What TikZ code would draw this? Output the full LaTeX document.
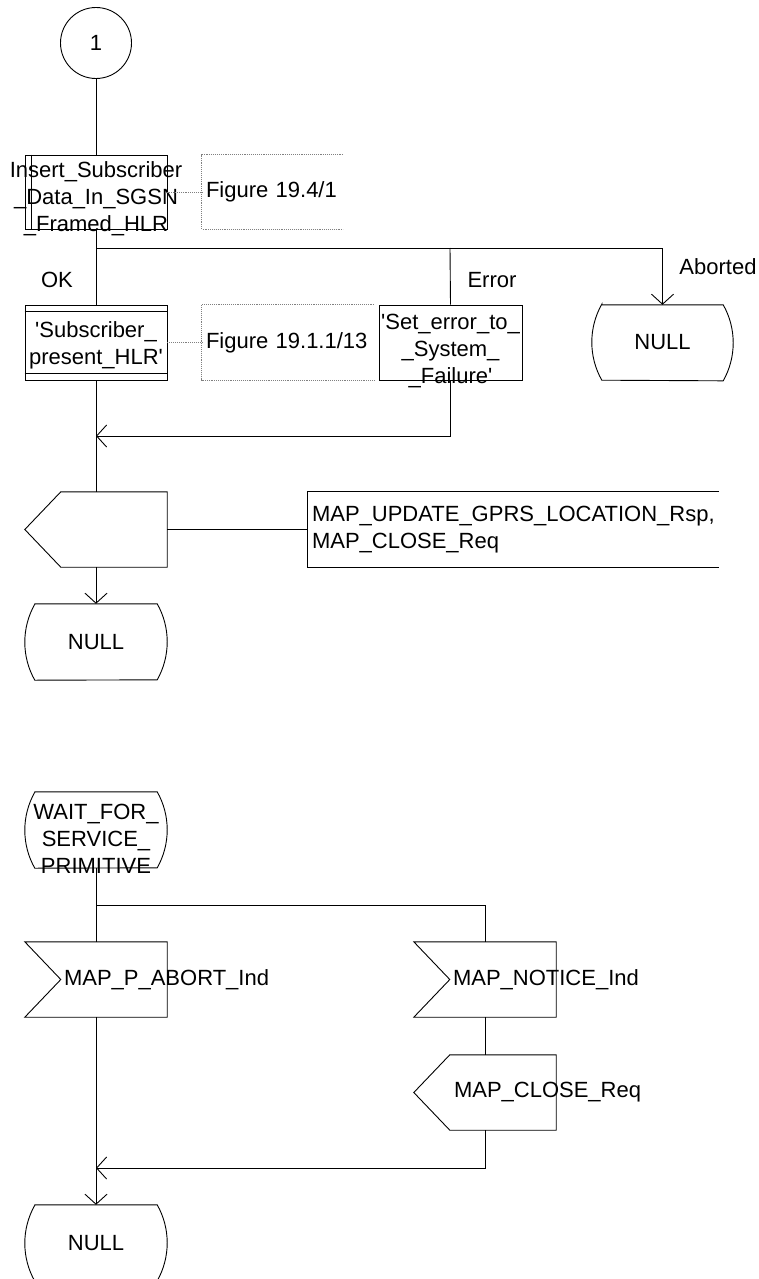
\documentclass[tikz,border=0pt]{standalone}
\usepackage{fontspec}
\setmainfont{Liberation Sans}
\usetikzlibrary{arrows.meta}

\newcommand{\sdlstate}[1]{%
  \draw[flow] ([xshift=10pt]#1.north west) -- ([xshift=-10pt]#1.north east)
    arc[start angle=-29.5, end angle=29.5, radius=77.2]
    -- ([xshift=10pt]#1.south west)
    arc[start angle=150.5, end angle=209.5, radius=77.2] -- cycle;}
\newcommand{\sdloutput}[1]{%
  \draw[flow] (#1.north east) -- (#1.south east) -- ([xshift=36pt]#1.south west)
    -- (#1.west) -- ([xshift=36pt]#1.north west) -- cycle;}
\newcommand{\sdlinput}[1]{%
  \draw[flow] (#1.north west) -- (#1.north east) -- (#1.south east)
    -- (#1.south west) -- ([xshift=36pt]#1.west) -- cycle;}

\begin{document}
\begin{tikzpicture}[x=1pt,y=-1pt,
  every node/.style={font=\fontsize{22}{27}\selectfont, inner sep=0pt},
  flow/.style={draw=black, line width=0.9pt},
  arr/.style={flow, -{Straight Barb[length=10pt,width=22pt,line width=0.9pt]}},
  dotline/.style={draw=gray, densely dotted, line width=0.9pt},
  body/.style={minimum width=142pt, minimum height=75pt},
  sym/.style={body, draw=black, line width=0.9pt},
  txt/.style={align=center},
  comment/.style={inner xsep=4pt, align=left, minimum height=75pt}]

\useasboundingbox (0,0) rectangle (759,1279);

% ---------- upper part ----------
\node[circle, draw=black, line width=0.9pt, minimum size=71pt] (c1) at (96,43) {1};

\node[sym, minimum height=74pt] (ins) at (96,192) {};
\draw[flow] ([xshift=7pt]ins.north west) -- ([xshift=7pt]ins.south west);
\node[txt] (inst) at (96,199) {Insert\_Subscriber\\\_Data\_In\_SGSN\\\_Framed\_HLR};

\node[comment, text width=133pt, minimum height=74pt] (fig1) at (272.5,192) {Figure 19.4/1};
\draw[dotline] (fig1.north east) -- (fig1.north west) -- (fig1.south west) -- (fig1.south east);
\draw[dotline] (ins.east) -- (fig1.west);

\draw[flow] (c1) -- (ins);

\coordinate (j1) at (96,248);
\coordinate (j2) at (450,248);

\node[sym] (sub) at (96,342.5) {};
\draw[flow] ([yshift=-7pt]sub.north west) -- ([yshift=-7pt]sub.north east);
\draw[flow] ([yshift=7pt]sub.south west) -- ([yshift=7pt]sub.south east);
\node[txt] (subt) at (96,345) {\textquotesingle Subscriber\_\\present\_HLR\textquotesingle};

\node[comment, text width=164pt] (fig2) at (288,342.5) {Figure 19.1.1/13};
\draw[dotline] (fig2.north east) -- (fig2.north west) -- (fig2.south west) -- (fig2.south east);
\draw[dotline] (sub.east) -- (fig2.west);

\node[sym, minimum width=143pt] (seterr) at (450.5,342.5) {};
\node[txt] (setert) at (450.5,351) {\textquotesingle Set\_error\_to\_\\\_System\_\\\_Failure\textquotesingle};

\node[body, minimum width=141pt] (nullA) at (662.5,342.5) {NULL};
\sdlstate{nullA}

\draw[flow] (ins.south) -- (sub.north);
\draw[arr] (j1) -| (nullA.north);
\draw[flow] (j2) -- (seterr.north);

\node (ok) at (57,280) {OK};
\node (err) at (492,280) {Error};
\node (abt) at (718,267) {Aborted};

\coordinate (m1) at (96,436);
\draw[arr] (seterr.south) |- (m1);

\node[body] (out1) at (96,529.5) {};
\sdloutput{out1}
\draw[flow] (sub.south) -- (out1.north);

\node[comment, text width=403pt] (com3) at (513.5,529.5) {MAP\_UPDATE\_GPRS\_LOCATION\_Rsp,\\MAP\_CLOSE\_Req};
\draw[flow] (com3.north east) -- (com3.north west) -- (com3.south west) -- (com3.south east);
\draw[flow] (out1.east) -- (com3.west);

\node[body, minimum height=76pt] (null1) at (96,642) {NULL};
\sdlstate{null1}
\draw[arr] (out1.south) -- (null1.north);

% ---------- lower part ----------
\node[body, minimum height=76pt] (wait) at (96,830) {};
\sdlstate{wait}
\node[txt] (waitt) at (96,839) {WAIT\_FOR\_\\SERVICE\_\\PRIMITIVE};

\coordinate (j3) at (96,905);

\node[body] (in1) at (96,979.5) {};
\sdlinput{in1}
\node[anchor=west] (in1t) at ([xshift=39pt]in1.west) {MAP\_P\_ABORT\_Ind};

\node[body] (in2) at (485,979.5) {};
\sdlinput{in2}
\node[anchor=west] (in2t) at ([xshift=39pt]in2.west) {MAP\_NOTICE\_Ind};

\draw[flow] (wait.south) -- (in1.north);
\draw[flow] (j3) -| (in2.north);

\node[body] (out2) at (485,1092.5) {};
\sdloutput{out2}
\node[anchor=west] (out2t) at ([xshift=40pt]out2.west) {MAP\_CLOSE\_Req};
\draw[flow] (in2.south) -- (out2.north);

\node[body, minimum height=76pt] (null2) at (96,1243) {NULL};
\sdlstate{null2}

\coordinate (m2) at (96,1168);
\draw[arr] (out2.south) |- (m2);
\draw[arr] (in1.south) -- (null2.north);

\end{tikzpicture}
\end{document}
